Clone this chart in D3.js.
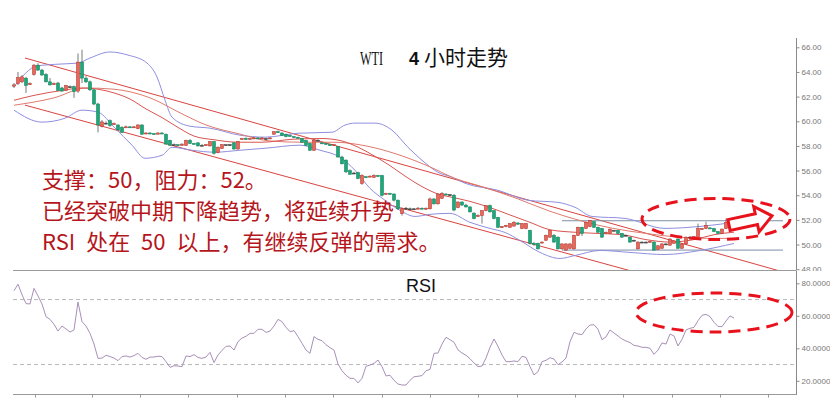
<!DOCTYPE html>
<html><head><meta charset="utf-8">
<script src="https://cdn.jsdelivr.net/npm/d3@7"></script>
<style>body{margin:0;background:#fff;} svg{display:block;}</style>
</head><body><svg id="c" width="830" height="401"></svg>
<script>
// ---- data (index = 4h candle number) ----
const openP = [62.85,63.05,63.20,63.50,63.00,63.80,64.55,64.15,63.80,63.20,
63.00,63.10,62.70,62.50,62.80,62.80,62.45,64.80,63.50,63.20,
62.55,61.40,59.60,59.85,60.05,59.75,59.70,59.50,59.50,59.55,
59.50,59.40,59.70,59.00,59.05,59.00,58.95,59.05,58.95,58.45,
58.10,58.10,58.05,58.05,58.45,58.20,58.25,58.05,58.05,58.00,
58.35,57.45,57.80,58.10,58.10,58.25,57.75,58.55,58.60,58.55,
58.60,58.65,58.60,58.60,58.60,58.95,59.15,59.05,58.95,58.85,
58.75,58.70,58.60,58.45,58.20,57.65,58.45,58.25,58.20,58.10,
58.05,57.95,57.10,56.85,56.00,55.80,55.85,54.95,55.50,55.50,
55.45,55.60,55.60,54.10,54.15,54.10,53.60,52.50,52.95,52.90,
52.90,52.90,52.95,52.90,52.90,53.70,53.30,53.75,54.10,54.05,
54.00,53.00,53.45,53.20,53.05,52.55,52.30,52.35,52.75,53.15,
52.75,52.20,51.40,51.45,51.40,51.50,51.75,51.30,51.30,51.15,
50.10,50.10,50.15,50.35,50.60,50.75,50.60,49.65,49.55,49.70,
49.65,50.75,51.40,51.30,51.45,51.85,51.40,51.30,50.95,50.90,
51.15,51.15,50.90,50.75,50.60,50.35,49.65,50.20,50.20,50.20,
50.20,49.60,49.70,50.05,49.95,50.10,50.45,49.70,50.05,50.60,
50.60,50.60,51.25,51.30,51.35,51.30,51.05,50.90,51.30,51.55,51.55];
const highP = [63.10,64.00,63.75,63.60,63.15,64.65,64.70,64.25,63.90,63.50,
63.15,63.20,62.80,62.95,62.90,62.90,65.50,65.80,63.65,63.30,
62.60,61.50,60.10,60.00,60.15,59.90,59.75,59.60,59.65,59.60,
59.60,59.75,59.75,59.10,59.10,59.05,59.10,59.10,59.00,58.50,
58.20,58.15,58.20,58.50,58.55,58.25,58.30,58.15,58.15,58.40,
58.40,57.95,58.15,58.15,58.15,58.30,58.40,58.65,58.70,58.65,
58.75,58.70,58.70,58.65,58.70,59.20,59.25,59.10,59.00,58.95,
58.80,58.75,58.65,58.50,58.25,58.50,58.55,58.30,58.25,58.15,
58.15,58.00,57.20,56.90,56.10,55.90,55.90,55.70,55.55,55.60,
55.70,55.65,55.65,54.20,54.20,54.15,53.65,53.00,53.05,53.00,
52.95,53.05,53.00,53.00,53.80,53.75,54.15,54.25,54.15,54.10,
54.10,53.50,53.50,53.30,53.10,52.60,52.45,52.80,53.20,53.25,
52.80,52.25,51.50,51.60,51.75,51.90,51.80,51.75,51.75,51.20,
50.20,50.15,50.25,50.80,51.20,50.85,50.65,50.10,50.10,50.10,
50.80,51.45,51.45,51.85,52.00,51.90,51.45,51.35,51.05,51.30,
51.20,51.20,50.95,50.80,50.65,50.40,50.25,50.25,50.25,50.30,
50.25,49.95,50.10,50.10,50.50,50.35,50.50,50.10,50.65,50.65,
50.70,51.70,51.35,51.85,51.40,51.35,51.10,51.30,52.10,51.75,51.60];
const lowP = [62.70,62.95,63.10,62.30,62.95,63.70,64.10,63.70,63.15,62.90,
62.95,62.45,62.40,62.45,62.75,61.90,62.30,63.10,63.10,62.45,
61.30,59.10,59.50,59.75,59.55,59.70,59.25,59.05,59.45,59.45,
59.45,59.35,58.90,58.95,58.95,58.90,58.95,58.95,58.10,58.00,
58.05,58.00,58.00,58.00,58.15,58.10,57.95,58.00,58.00,57.95,
57.30,57.40,57.75,58.05,58.00,57.70,57.70,58.50,58.50,58.50,
58.55,58.55,58.55,58.50,58.55,58.90,59.05,58.80,58.70,58.75,
58.65,58.60,58.25,58.00,57.60,57.60,58.40,58.15,58.10,58.00,
58.00,57.05,56.50,55.80,55.65,55.75,55.30,54.85,55.40,55.45,
55.40,55.50,53.90,54.05,54.05,53.50,52.80,52.35,52.85,52.85,
52.85,52.85,52.85,52.80,52.85,53.25,53.25,53.70,54.00,53.95,
52.70,52.95,53.15,53.00,52.60,52.05,52.25,51.70,52.70,52.60,
52.05,51.35,51.35,51.40,51.35,51.45,51.60,51.25,51.25,50.00,
49.90,49.60,50.10,50.30,50.55,50.15,49.60,49.60,49.50,49.65,
49.60,50.70,50.70,51.25,51.40,51.35,50.95,50.55,50.90,50.85,
51.10,50.85,50.55,50.70,50.15,50.30,49.60,50.15,50.15,50.15,
49.50,49.55,49.65,50.00,49.90,50.05,49.65,49.65,50.00,50.55,
50.55,50.55,51.20,51.25,51.25,51.00,50.85,50.85,51.25,51.50,51.50];
const closeP = [62.95,63.55,63.60,62.90,63.05,64.55,64.15,63.75,63.20,62.95,
63.05,62.50,62.45,62.90,62.80,62.40,64.80,63.50,63.20,62.55,
61.40,59.70,59.95,59.85,59.65,59.80,59.30,59.10,59.55,59.50,
59.55,59.70,58.95,59.05,59.00,58.95,59.05,59.00,58.15,58.05,
58.10,58.05,58.15,58.45,58.20,58.15,58.00,58.05,58.10,58.35,
57.40,57.90,58.10,58.10,58.10,57.75,58.35,58.60,58.55,58.60,
58.65,58.60,58.65,58.60,58.65,59.15,59.10,58.85,58.75,58.80,
58.70,58.65,58.30,58.05,57.65,58.45,58.45,58.20,58.15,58.05,
58.10,57.10,56.55,55.90,55.70,55.80,55.35,55.60,55.45,55.55,
55.60,55.55,54.00,54.15,54.10,53.60,52.90,52.90,52.95,52.90,
52.90,52.95,52.90,52.95,53.70,53.30,54.10,54.15,54.05,54.05,
52.80,53.45,53.20,53.05,52.65,52.10,52.35,52.75,53.15,52.65,
52.10,51.40,51.45,51.55,51.70,51.80,51.65,51.70,51.70,50.10,
50.00,49.65,50.20,50.75,51.15,50.20,49.65,50.05,50.05,50.05,
50.75,51.40,50.90,51.80,51.95,51.40,51.00,50.60,51.00,51.25,
51.15,50.90,50.60,50.75,50.20,50.35,50.20,50.20,50.20,50.25,
49.55,49.90,50.05,50.05,50.45,50.30,49.70,50.05,50.60,50.60,
50.65,51.30,51.30,51.55,51.30,51.05,50.90,51.25,51.80,51.70,51.55];
const rsiVals = [75.5,79.4,73.0,67.5,67.3,76.9,72.2,67.3,59.5,57.8,
54.8,50.6,53.7,51.9,50.0,51.3,68.5,56.4,53.7,49.2,
42.6,33.8,34.0,35.7,34.9,34.0,32.4,34.9,35.3,34.6,
35.5,36.9,34.4,33.2,34.6,34.6,35.1,34.9,31.8,28.3,
29.3,29.1,28.7,35.3,34.9,36.1,34.4,33.8,34.6,37.5,
31.2,35.9,38.7,41.2,41.4,38.9,44.1,46.3,47.4,49.2,
49.2,51.7,51.7,49.8,50.6,53.7,57.8,56.4,52.9,50.2,
50.9,47.2,43.1,38.9,36.9,47.2,45.5,44.7,42.2,40.4,
38.9,30.3,26.2,23.4,21.5,21.5,18.7,21.5,28.9,29.7,
30.7,32.8,28.7,23.0,23.4,20.3,18.0,17.4,17.4,20.3,
22.5,22.8,23.2,26.2,27.0,36.9,37.1,42.6,46.8,45.3,
43.7,39.0,37.1,35.7,33.6,31.0,28.7,29.1,34.0,40.6,
45.7,41.2,35.9,31.8,31.8,32.2,31.8,35.1,34.4,28.7,
23.6,25.6,31.8,32.6,34.2,33.4,29.9,31.6,34.0,44.1,
49.8,48.8,48.4,51.9,54.3,54.5,51.7,45.3,47.0,51.3,
49.4,47.6,45.7,44.5,43.5,41.8,41.4,40.6,40.6,40.0,
36.3,38.9,43.3,42.6,48.8,47.6,41.4,45.5,51.3,52.3,
52.9,57.0,60.3,60.9,59.5,56.0,53.5,53.3,56.8,59.9,58.6];
// Bollinger band and moving averages, read at sample candles: [index, price]
const upperBand = [[0,62.8],[5.75,64.48],[11.5,64.64],[16,64.72],[19,65.13],[24,65.62],[28.5,65.37],[33.25,64.72],[35.75,63.59],[37.75,61.72],[39.5,60.33],[44,59.6],[49,59.44],[56.5,58.87],[62.75,58.71],[71,59.03],[79.5,59.11],[82.75,59.69],[85.25,59.85],[90.25,59.85],[94.5,59.28],[98.5,57.89],[102,56.84],[106,55.86],[109.5,55.46],[112.75,54.97],[121,54.4],[128.5,53.59],[136,53.42],[140.25,53.02],[144.5,52.28],[152.75,52.12],[162.75,51.31],[171.5,51.47],[180,51.8]];
const lowerBand = [[0,60.9],[7,59.93],[12.75,60.25],[17,60.9],[21,60.74],[25.25,59.44],[29.5,58.06],[32.75,57.0],[37,57.24],[39.5,57.89],[44.5,57.65],[50.25,57.49],[56.5,57.65],[62.75,57.81],[71.5,58.06],[76.5,57.65],[81.5,57.08],[85.25,56.02],[89,54.56],[92.75,53.59],[96.5,52.77],[100.25,52.28],[104,52.45],[109,52.53],[114,51.8],[119,51.31],[122.75,50.98],[126.5,50.33],[131.5,49.36],[136.5,48.87],[140.25,49.11],[146.5,49.52],[154,49.36],[162.75,49.19],[171.5,49.52],[180,50.09]];
const middleBand = [[0,61.7],[5,62.1],[12,62.5],[17,62.7],[21,62.6],[25,62.3],[29,61.8],[33,61.0],[37,60.3],[41,59.5],[45,58.8],[50,58.5],[56,58.3],[62,58.3],[70,58.55],[77,58.6],[82,58.4],[86,57.9],[90,57.2],[94,56.4],[98,55.5],[102,54.7],[106,54.1],[110,53.8],[114,53.5],[119,53.0],[124,52.4],[129,51.8],[134,51.2],[140,51.0],[146,50.9],[152,50.8],[158,50.4],[164,50.2],[170,50.4],[175,50.8],[180,51.0]];
const slowMA = [[0,61.3],[10,61.9],[18,62.7],[25,62.6],[34,61.9],[42,60.6],[48,59.7],[56,59.0],[64,58.4],[72,58.3],[80,58.3],[88,58.0],[96,57.3],[104,56.3],[110,55.4],[118,54.6],[126,53.7],[134,52.7],[142,51.9],[150,51.3],[158,50.9],[166,50.6],[174,50.5],[180,50.5]];
const channelUpper = [[2.75,65.13],[194,47.62]];
const channelLower = [[2.75,61.31],[156.5,47.66]];
const levelPrices = [51.93, 49.55];
const levelSpan = [137, 192.25];
const priceTicks = [66,64,62,60,58,56,54,52,50,48];
const rsiTicks = [80,60,40,20];
const rsiGuides = [70,30];
const timeTicks = [5.25,19.5,31.5,43.5,55.75,67.75,79.75,92,104,116,125.75,140.25,152.25,164.5,176.5,188.5];
const noteLines = ["支撑：50，阻力：52。","已经突破中期下降趋势，将延续升势","RSI 处在 50 以上，有继续反弹的需求。"];

// ---- drawing ----
const svg = d3.select("#c");
svg.append("rect").attr("width",830).attr("height",401).attr("fill","#fff");
const x = d3.scaleLinear().domain([0,180]).range([14,734]);
const y = d3.scaleLinear().domain([48,66]).range([269.2,47.3]);
const yr = d3.scaleLinear().domain([20,80]).range([380.8,283.3]);

const defs = svg.append("defs");
defs.append("clipPath").attr("id","topclip").append("rect").attr("x",0).attr("y",30).attr("width",796).attr("height",240);
const topG = svg.append("g").attr("clip-path","url(#topclip)");

const line = d3.line().x(d=>x(d[0])).y(d=>y(d[1]));
const curve = d3.line().x(d=>x(d[0])).y(d=>y(d[1])).curve(d3.curveMonotoneX);

// channel lines
[channelUpper, channelLower].forEach(c=>{
  topG.append("path").attr("d", line(c)).attr("fill","none").attr("stroke","#d9443f").attr("stroke-width",1);
});
// horizontal levels
levelPrices.forEach(p=>{
  topG.append("line").attr("x1",x(levelSpan[0])).attr("x2",x(levelSpan[1]))
    .attr("y1",y(p)).attr("y2",y(p)).attr("stroke","#7d8ea6").attr("stroke-width",1);
});
// bands
[upperBand, lowerBand].forEach(b=>{
  topG.append("path").attr("d", curve(b)).attr("fill","none").attr("stroke","#8f8fe0").attr("stroke-width",1);
});
topG.append("path").attr("d", curve(slowMA)).attr("fill","none").attr("stroke","#e07b6e").attr("stroke-width",1);
topG.append("path").attr("d", curve(middleBand)).attr("fill","none").attr("stroke","#d95550").attr("stroke-width",1);

// candles
const candles = openP.map((o,i)=>({i,o,h:highP[i],l:lowP[i],c:closeP[i]}));
const cg = topG.append("g");
cg.selectAll("line.w").data(candles).join("line").attr("class","w")
  .attr("x1",d=>x(d.i)).attr("x2",d=>x(d.i)).attr("y1",d=>y(d.h)).attr("y2",d=>y(d.l))
  .attr("stroke","#555").attr("stroke-width",0.8);
cg.selectAll("rect.b").data(candles).join("rect").attr("class","b")
  .attr("x",d=>x(d.i)-1.6).attr("width",3.2)
  .attr("y",d=>y(Math.max(d.o,d.c)))
  .attr("height",d=>Math.max(1,Math.abs(y(d.o)-y(d.c))))
  .attr("fill",d=>d.c>d.o?"#e46a5e":(d.c<d.o?"#1fa67a":"#444"))
  .attr("stroke",d=>d.c>d.o?"#b8322a":(d.c<d.o?"#10855c":"#444"))
  .attr("stroke-width",0.5);

// right axis top
svg.append("line").attr("x1",796.5).attr("x2",796.5).attr("y1",38).attr("y2",270).attr("stroke","#8a8a8a");
const ax1 = svg.append("g").attr("transform","translate(796.5,0)")
  .call(d3.axisRight(y).tickValues(priceTicks).tickFormat(d3.format(".2f")).tickSize(3).tickPadding(2));
ax1.select(".domain").remove();
ax1.selectAll("line").attr("stroke","#8a8a8a");
ax1.selectAll("text").attr("fill","#777").attr("font-size",8).attr("font-family","Liberation Sans, Arial, sans-serif");

// RSI panel
svg.append("rect").attr("x",0).attr("y",271).attr("width",830).attr("height",130).attr("fill","#fff");
svg.append("line").attr("x1",13).attr("x2",796.5).attr("y1",270.5).attr("y2",270.5).attr("stroke","#999");
rsiGuides.forEach(v=>{
  svg.append("line").attr("x1",13).attr("x2",796).attr("y1",yr(v)).attr("y2",yr(v))
    .attr("stroke","#b8b8b8").attr("stroke-dasharray","4,3").attr("stroke-width",1);
});
svg.append("path").attr("d", d3.line().x((d,i)=>x(i)).y(d=>yr(d))(rsiVals))
  .attr("fill","none").attr("stroke","#a890b8").attr("stroke-width",1);
svg.append("line").attr("x1",796.5).attr("x2",796.5).attr("y1",271).attr("y2",395).attr("stroke","#8a8a8a");
const ax2 = svg.append("g").attr("transform","translate(796.5,0)")
  .call(d3.axisRight(yr).tickValues(rsiTicks).tickFormat(d3.format(".4f")).tickSize(3).tickPadding(2));
ax2.select(".domain").remove();
ax2.selectAll("line").attr("stroke","#8a8a8a");
ax2.selectAll("text").attr("fill","#777").attr("font-size",8).attr("font-family","Liberation Sans, Arial, sans-serif");
svg.append("line").attr("x1",13).attr("x2",796.5).attr("y1",394.5).attr("y2",394.5).attr("stroke","#999");
const ax3 = svg.append("g").attr("transform","translate(0,394.5)")
  .call(d3.axisBottom(x).tickValues(timeTicks).tickFormat("").tickSize(3));
ax3.select(".domain").remove();
ax3.selectAll("line").attr("stroke","#999");
svg.append("text").attr("x",406).attr("y",292).text("RSI")
  .attr("font-family","Liberation Sans, Arial, sans-serif").attr("font-size",18).attr("fill","#111");

// title
svg.append("text").attr("x",360).attr("y",65).text("WTI")
  .attr("font-family","Liberation Serif, serif").attr("font-size",18)
  .attr("textLength",23).attr("lengthAdjust","spacingAndGlyphs").attr("fill","#111");
svg.append("text").attr("x",409).attr("y",65).text("4")
  .attr("font-family","Liberation Sans, Arial, sans-serif").attr("font-weight","bold").attr("font-size",18).attr("fill","#111");
svg.append("text").attr("x",424).attr("y",65).text("小时走势")
  .attr("font-family","Noto Sans CJK SC").attr("font-size",21).attr("fill","#111");

// notes
const noteY = [188,219,250];
noteLines.forEach((t,k)=>{
  svg.append("text").attr("x",42).attr("y",noteY[k]).text(t)
    .attr("font-family","Noto Sans CJK SC").attr("font-size",22).attr("fill","#b5161c")
    .attr("word-spacing", k===2?6:0);
});

// annotation ellipses and arrow
svg.append("ellipse").attr("cx",716).attr("cy",219).attr("rx",74).attr("ry",20.5)
  .attr("fill","none").attr("stroke","#e8121c").attr("stroke-width",3).attr("stroke-dasharray","12,7");
svg.append("ellipse").attr("cx",714).attr("cy",312.5).attr("rx",78).attr("ry",19.5)
  .attr("fill","none").attr("stroke","#e8121c").attr("stroke-width",3).attr("stroke-dasharray","12,7");
const arrowPts = [[0,-5.5],[28,-5.5],[28,-13],[44,0],[28,13],[28,5.5],[0,5.5]];
svg.append("polygon").attr("points", arrowPts.map(p=>p.join(",")).join(" "))
  .attr("transform","translate(729,225) rotate(-12)")
  .attr("fill","#fff").attr("stroke","#e8121c").attr("stroke-width",3).attr("stroke-linejoin","miter");
</script></body></html>
